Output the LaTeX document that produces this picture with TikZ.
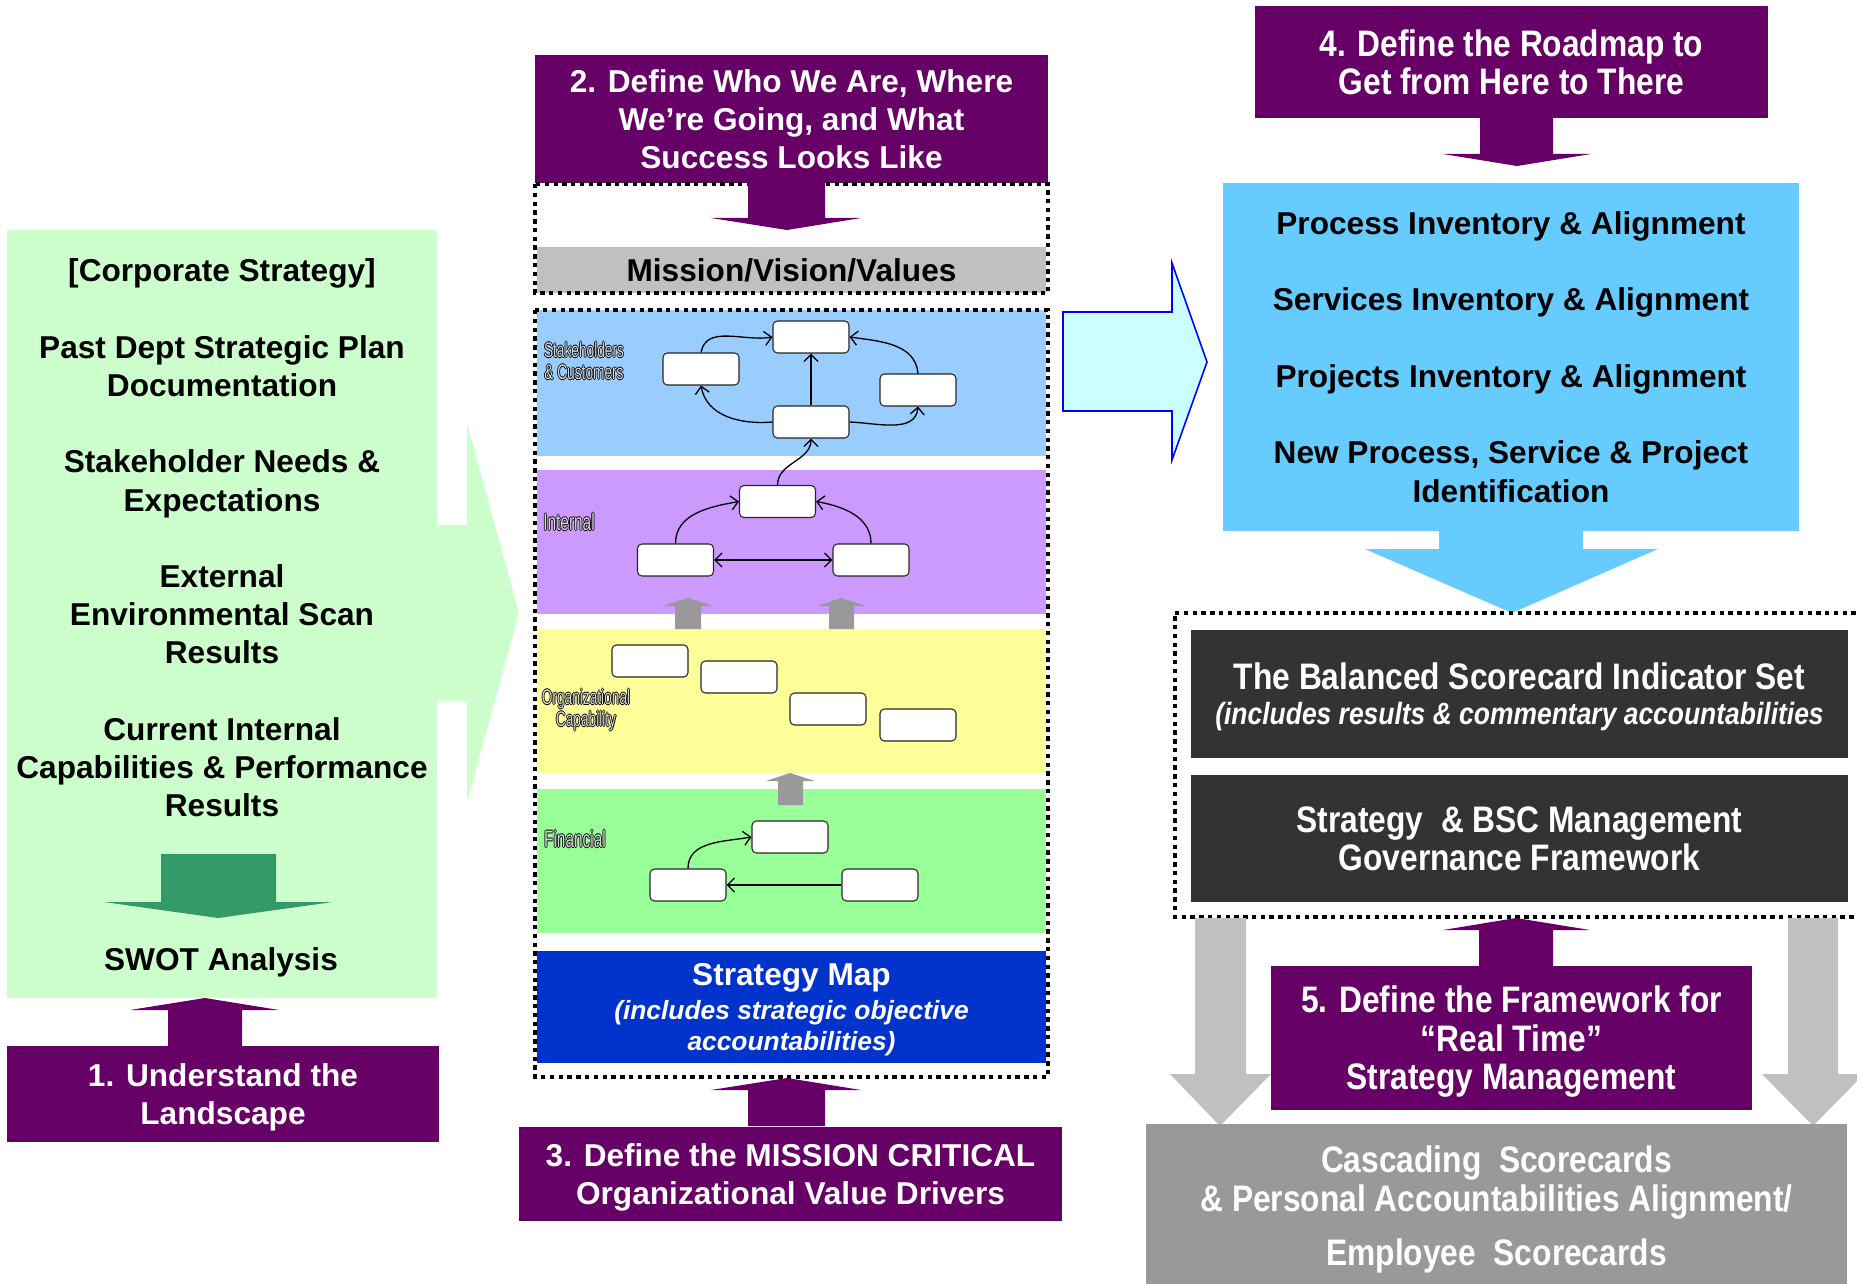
\documentclass[tikz,border=0pt]{standalone}
\usepackage{fontspec}
\setmainfont{Liberation Sans}
\newfontfamily\narrowfont{Liberation Sans}[FakeStretch=0.86]
\newfontfamily\tinyfont{Liberation Sans}[FakeStretch=0.65]
\usepackage{tikz}
\usetikzlibrary{arrows.meta, positioning}

\definecolor{stepcol}{HTML}{660066}
\definecolor{panelgreen}{HTML}{CCFFCC}
\definecolor{swotgreen}{HTML}{339966}
\definecolor{mvvgray}{HTML}{C0C0C0}
\definecolor{bandblue}{HTML}{99CCFF}
\definecolor{bandpurple}{HTML}{CC99FF}
\definecolor{bandyellow}{HTML}{FFFF99}
\definecolor{bandgreen}{HTML}{99FF99}
\definecolor{mapblue}{HTML}{0033CC}
\definecolor{liftgray}{HTML}{999999}
\definecolor{skyblue}{HTML}{66CCFF}
\definecolor{paleblue}{HTML}{CCFFFF}
\definecolor{bscdark}{HTML}{333333}
\definecolor{cascgray}{HTML}{999999}
\definecolor{downgray}{HTML}{C0C0C0}

% outlined lane label text
\newcommand{\outl}[1]{\leavevmode\rlap{\color{black}\hspace{0.45pt}#1}\rlap{\color{black}\hspace{-0.45pt}#1}\rlap{\color{black}\raisebox{0.45pt}{#1}}\rlap{\color{black}\raisebox{-0.45pt}{#1}}{\color{gray!30}#1}}

\begin{document}
\begin{tikzpicture}[x=0.02cm, y=-0.02cm,
    stepbox/.style={fill=stepcol, text=white, align=center, inner sep=0pt, text depth=0pt, font=\bfseries\fontsize{18}{21.75}\selectfont},
    narrowstep/.style={stepbox, font=\narrowfont\bfseries\fontsize{21}{21.9}\selectfont},
    inputs/.style={align=center, inner sep=0pt, font=\bfseries\fontsize{18}{21.75}\selectfont},
    band/.style={inner sep=0pt, minimum width=10.2cm},
    obj/.style={draw=black!85, fill=white, rounded corners=2.5pt, minimum width=1.52cm, minimum height=0.64cm, inner sep=0pt, line width=0.6pt},
    conn/.style={-{Straight Barb[length=4pt, width=8pt]}, line width=0.75pt},
    biconn/.style={{Straight Barb[length=4pt, width=8pt]}-{Straight Barb[length=4pt, width=8pt]}, line width=0.75pt},
    lane/.style={align=center, inner sep=0pt, font=\tinyfont\fontsize{12}{12.5}\selectfont},
    dotbox/.style={draw=black, line width=2pt, dash pattern=on 2.5pt off 2.5pt},
    darkbox/.style={fill=bscdark, text=white, align=center, inner sep=0pt, text depth=0pt, minimum width=13.14cm, minimum height=2.56cm, font=\narrowfont\bfseries\fontsize{21}{21.6}\selectfont},
]

\fill[white] (0,0) rectangle (1857,1284);
\useasboundingbox (0,0) rectangle (1857,1284);

% Step 1: the landscape
\fill[panelgreen] (7,230) -- (437,230) -- (437,525) -- (467,525) -- (467,423) -- (519,613) -- (467,803) -- (467,701) -- (437,701) -- (437,998) -- (7,998) -- cycle;
\node[inputs] (inputs) at (222,538) {[Corporate Strategy]\\[21.75pt]
  Past Dept Strategic Plan\\Documentation\\[21.75pt]
  Stakeholder Needs \&\\Expectations\\[21.75pt]
  External\\Environmental Scan\\Results\\[21.75pt]
  Current Internal\\Capabilities \& Performance\\Results};
\fill[swotgreen] (161,854) -- (276,854) -- (276,902) -- (333,902) -- (218,918) -- (104,902) -- (161,902) -- cycle;
\node[inputs] (swot) at (221,962) {SWOT Analysis};
\node[stepbox, minimum width=8.64cm, minimum height=1.94cm] (step1) at (223,1094) {1. Understand the\\Landscape};
\fill[stepcol] (168,1046) -- (168,1010) -- (130,1010) -- (205,998) -- (279,1010) -- (242,1010) -- (242,1046) -- cycle;

% Step 2 / 3: mission and strategy map
\node[stepbox, minimum width=10.26cm, minimum height=2.56cm] (step2) at (791.5,119) {2. Define Who We Are, Where\\We’re Going, and What\\Success Looks Like};
\node[band, fill=mvvgray, minimum height=0.92cm, font=\bfseries\fontsize{18}{21}\selectfont] (mvv) at (791.5,270) {Mission/Vision/Values};

\node[band, fill=bandblue, minimum height=2.92cm] (custband) at (791.5,383) {};
\node[band, fill=bandpurple, minimum height=2.88cm] (intband) at (791.5,542) {};
\node[band, fill=bandyellow, minimum height=2.88cm] (capband) at (791.5,701) {};
\node[band, fill=bandgreen, minimum height=2.88cm] (finband) at (791.5,861) {};
\node[band, fill=mapblue, text=white, align=center, text depth=0pt, minimum height=2.26cm, font=\bfseries\itshape\fontsize{15}{17.6}\selectfont] (stratmap) at (791.5,1007) {{\upshape\fontsize{18}{20}\selectfont Strategy Map}\\[1.7pt](includes strategic objective\\accountabilities)};

\node[lane] (lblcust) at (584,361) {\outl{Stakeholders}\\\outl{\& Customers}};
\node[lane, font=\tinyfont\fontsize{13.5}{14}\selectfont] (lblint) at (569,522) {\outl{Internal}};
\node[lane] (lblcap) at (586,710) {\outl{Organizational}\\\outl{Capability}};
\node[lane, font=\tinyfont\fontsize{13.5}{14}\selectfont] (lblfin) at (575,839) {\outl{Financial}};

% stakeholders & customers
\node[obj] (sT) at (811,337) {};
\node[obj] (sL) at (701,369) {};
\node[obj] (sR) at (918,390) {};
\node[obj] (sB) at (811,422) {};
\draw[conn] (sL.north) to[out=80, in=190] (sT.west);
\draw[conn] (sR.north) to[out=95, in=-8] (sT.east);
\draw[conn] (sB) -- (sT);
\draw[conn] (sB.west) to[out=185, in=-80] (sL.south);
\draw[conn] (sB.east) to[out=-2, in=-95] (sR.south);

% internal
\node[obj] (iT) at (777.5,501.5) {};
\node[obj] (iL) at (675.5,560) {};
\node[obj] (iR) at (871,560) {};
\draw[conn] (iT.north) to[out=90, in=-90] (sB.south);
\draw[conn] (iL.north) to[out=90, in=190] (iT.west);
\draw[conn] (iR.north) to[out=90, in=-10] (iT.east);
\draw[biconn] (iL) -- (iR);

% organizational capability
\node[obj] (c1) at (650,661) {};
\node[obj] (c2) at (739,677) {};
\node[obj] (c3) at (828,709) {};
\node[obj] (c4) at (918,725) {};

% financial
\node[obj] (fT) at (790,837) {};
\node[obj] (fL) at (688,885) {};
\node[obj] (fR) at (880,885) {};
\draw[conn] (fL.north) to[out=90, in=190] (fT.west);
\draw[conn] (fR) -- (fL);

% lift arrows between bands
\fill[liftgray] (675,629) -- (675,606) -- (663,606) -- (688,598) -- (713,606) -- (701,606) -- (701,629) -- cycle;
\fill[liftgray] (829,629) -- (829,606) -- (817,606) -- (841,598) -- (866,606) -- (854,606) -- (854,629) -- cycle;
\fill[liftgray] (778,805) -- (778,781) -- (766,781) -- (790,773) -- (815,781) -- (803,781) -- (803,805) -- cycle;

\draw[dotbox] (535,184) rectangle (1048,293);
\draw[dotbox] (535,310) rectangle (1048,1077);
\fill[stepcol] (748,182) -- (825,182) -- (825,218) -- (861,218) -- (787,230) -- (711,218) -- (748,218) -- cycle;

\node[stepbox, minimum width=10.86cm, minimum height=1.9cm] (step3) at (790.5,1174) {3. Define the MISSION CRITICAL\\Organizational Value Drivers};
\fill[stepcol] (748,1126) -- (748,1090) -- (711,1090) -- (787,1078) -- (861,1090) -- (825,1090) -- (825,1126) -- cycle;

% hand-over arrow
\filldraw[fill=paleblue, draw=blue, line width=0.9pt] (1063,312) -- (1172,312) -- (1172,263) -- (1207,362) -- (1172,460) -- (1172,411) -- (1063,411) -- cycle;

% Step 4: roadmap
\node[narrowstep, minimum width=10.26cm, minimum height=2.24cm] (step4) at (1511.5,62) {4. Define the Roadmap to\\Get from Here to There};
\fill[stepcol] (1480,118) -- (1553,118) -- (1553,154) -- (1591,154) -- (1517,166) -- (1443,154) -- (1480,154) -- cycle;
\node[inputs, fill=skyblue, minimum width=11.52cm, minimum height=6.96cm] (inventory) at (1511,357) {Process Inventory \& Alignment\\[21.75pt]
  Services Inventory \& Alignment\\[21.75pt]
  Projects Inventory \& Alignment\\[21.75pt]
  New Process, Service \& Project\\Identification};
\fill[skyblue] (1439,528) -- (1583,528) -- (1583,549) -- (1658,549) -- (1512,613) -- (1365,549) -- (1439,549) -- cycle;

% Step 5: real time management
\node[darkbox] (bscset) at (1519.5,694) {The Balanced Scorecard Indicator Set\\[-1.8pt]{\itshape\fontsize{17.5}{20}\selectfont (includes results \& commentary accountabilities}};
\node[darkbox] (governance) at (1519.5,838.5) {Strategy~ \& BSC Management\\Governance Framework};
\draw[dotbox] (1175,613) -- (1880,613) (1880,917) -- (1175,917) -- (1175,613);

\fill[downgray] (1195,918) -- (1246,918) -- (1246,1074) -- (1271,1074) -- (1220,1126) -- (1170,1074) -- (1195,1074) -- cycle;
\fill[downgray] (1788,918) -- (1838,918) -- (1838,1074) -- (1864,1074) -- (1813,1126) -- (1762,1074) -- (1788,1074) -- cycle;

\node[narrowstep, minimum width=9.62cm, minimum height=2.88cm] (step5) at (1511.5,1038) {5. Define the Framework for\\“Real Time”\\Strategy Management};
\fill[stepcol] (1479,966) -- (1479,930) -- (1443,930) -- (1516,918) -- (1590,930) -- (1553,930) -- (1553,966) -- cycle;

\node[narrowstep, fill=cascgray, minimum width=14.02cm, minimum height=3.3cm] (cascade) at (1496.5,1206) {Cascading~ Scorecards\\\& Personal Accountabilities Alignment/\\[9pt]Employee~ Scorecards};

\end{tikzpicture}
\end{document}
